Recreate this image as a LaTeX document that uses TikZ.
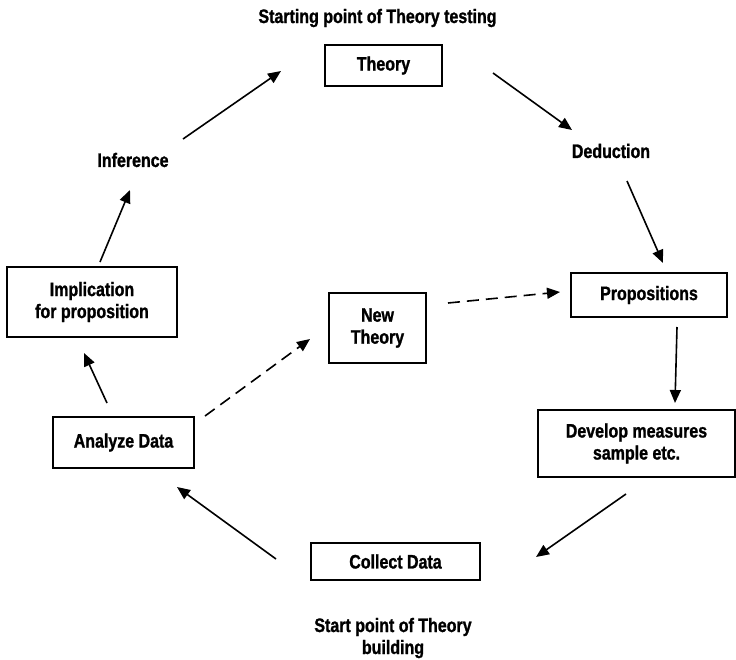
\documentclass[tikz,border=0pt]{standalone}
\usepackage{fontspec}
\setmainfont{Liberation Sans}[FakeStretch=0.82, BoldFeatures={FakeBold=1.2}]
\usetikzlibrary{arrows.meta}
\begin{document}
\begin{tikzpicture}[x=1pt,y=-1pt,
  every node/.style={font=\fontsize{19.5}{22}\selectfont\bfseries, align=center, inner sep=0pt},
  box/.style={draw, line width=1.3pt, minimum width=#1},
  lbl/.style={},
  arr/.style={line width=1.6pt, -{Triangle[length=13pt,width=11pt]}},
  darr/.style={arr, dash pattern=on 12pt off 7pt}]
\useasboundingbox (0,0) rectangle (736,659);

% boxes
\node[box=117, minimum height=41] (theory) at (383.5,65.5) {Theory};
\node[box=156, minimum height=44] (prop) at (649,295) {Propositions};
\node[box=197, minimum height=67] (develop) at (636.5,443.5) {Develop measures\\sample etc.};
\node[box=170, minimum height=70] (impl) at (92,302) {Implication\\for proposition};
\node[box=97, minimum height=70] (newth) at (377.5,328) {New\\Theory};
\node[box=141, minimum height=51] (analyze) at (123.5,442.5) {Analyze Data};
\node[box=169, minimum height=37] (collect) at (395.5,561.5) {Collect Data};

% free labels
\node[lbl] (start) at (377.5,18) {Starting point of Theory testing};
\node[lbl] (deduction) at (611,151) {Deduction};
\node[lbl] (inference) at (133,160) {Inference};
\node[lbl] (build) at (393,638) {Start point of Theory\\building};

% connector ends
\coordinate (infA) at (183,139);   \coordinate (thB) at (281,71);
\coordinate (thA) at (493,73);     \coordinate (dedB) at (572,130);
\coordinate (dedA) at (627,181);   \coordinate (propB) at (663,263);
\coordinate (propA) at (677,327);  \coordinate (devB) at (675,403);
\coordinate (devA) at (626,494);   \coordinate (colB) at (536,557);
\coordinate (colA) at (276,559);   \coordinate (anB) at (177,487);
\coordinate (anA) at (107,403);    \coordinate (impB) at (84,353);
\coordinate (impA) at (100,262);   \coordinate (infB) at (130,190);
\coordinate (anD) at (205,416);    \coordinate (ntB) at (310,339);
\coordinate (ntA) at (448,303);    \coordinate (propD) at (560,292);

% cycle
\draw[arr] (infA) -- (thB);
\draw[arr] (thA) -- (dedB);
\draw[arr] (dedA) -- (propB);
\draw[arr] (propA) -- (devB);
\draw[arr] (devA) -- (colB);
\draw[arr] (colA) -- (anB);
\draw[arr] (anA) -- (impB);
\draw[arr] (impA) -- (infB);

% new theory path
\draw[darr] (anD) -- (ntB);
\draw[darr] (ntA) -- (propD);
\end{tikzpicture}
\end{document}
